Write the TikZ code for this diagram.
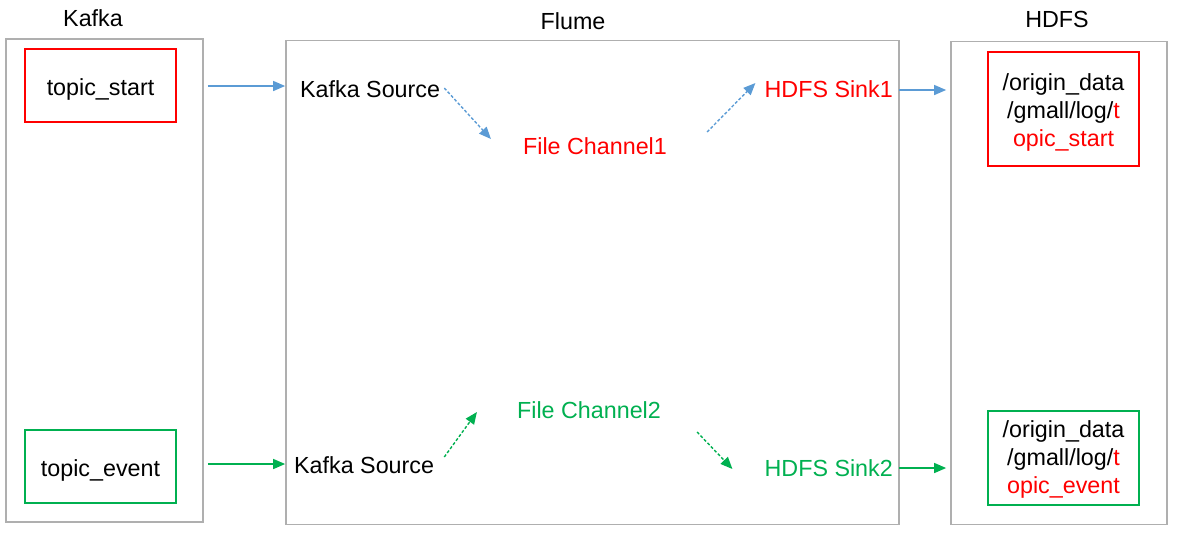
\documentclass[tikz,border=0pt]{standalone}
\usepackage{fontspec}
\setmainfont{Liberation Sans}
\usetikzlibrary{arrows.meta}
\definecolor{myblue}{HTML}{5B9BD5}
\definecolor{myred}{HTML}{FF0000}
\definecolor{mygreen}{HTML}{00B050}
\definecolor{mygray}{HTML}{AFAFAF}
\tikzset{
  txt/.style={inner sep=0pt, font=\fontsize{23.3}{28}\selectfont},
  outer/.style={draw=mygray, line width=1.7pt, inner sep=0pt},
  topicbox/.style={draw=#1, line width=1.6pt, inner sep=0pt, minimum width=151pt, font=\fontsize{23.3}{28}\selectfont, align=center},
  solidarrow/.style={draw=#1, line width=1.4pt, -{Triangle[length=12pt,width=10pt]}},
  dasharrow/.style={draw=#1, line width=1.4pt, dash pattern=on 3pt off 2pt, -{Triangle[length=12pt,width=10pt]}},
}
\begin{document}
\begin{tikzpicture}[x=1pt,y=-1pt]
\useasboundingbox (0,0) rectangle (1190,542);
% outer boxes
\node[outer, minimum width=197pt, minimum height=483pt] (kafka) at (104.5,280.5) {};
\node[outer, minimum width=613pt, minimum height=484pt] (flume) at (592.5,282.5) {};
\node[outer, minimum width=216pt, minimum height=483pt] (hdfs) at (1059,283) {};
% titles
\node[txt] (tkafka) at (93,18) {Kafka};
\node[txt] (tflume) at (573,21) {Flume};
\node[txt] (thdfs) at (1057,19) {HDFS};
% topic boxes
\node[topicbox=myred, minimum height=73pt, text height=24pt, text depth=5pt] (ts) at (100.5,85.5) {topic\_start};
\node[topicbox=mygreen, minimum height=73pt, text height=24pt, text depth=5pt] (te) at (100.5,466.5) {topic\_event};
% flume contents
\node[txt, anchor=west] (ks1) at (300,89) {Kafka Source};
\node[txt, text=myred] (fc1) at (595,146) {File Channel1};
\node[txt, text=myred, anchor=east] (hs1) at (893,89) {HDFS Sink1};
\node[txt, anchor=west] (ks2) at (294,465) {Kafka Source};
\node[txt, text=mygreen] (fc2) at (589,410) {File Channel2};
\node[txt, text=mygreen, anchor=east] (hs2) at (893,468) {HDFS Sink2};
% hdfs boxes
\node[topicbox=myred, minimum height=114pt] (hd1) at (1063.5,109) {};
\node[txt, align=center] (hd1t) at (1063.5,112) {/origin\_data\\/gmall/log/\textcolor{myred}{t}\\\textcolor{myred}{opic\_start}};
\node[topicbox=mygreen, minimum height=94pt] (hd2) at (1063.5,458) {};
\node[txt, align=center] (hd2t) at (1063.5,459.5) {/origin\_data\\/gmall/log/\textcolor{myred}{t}\\\textcolor{myred}{opic\_event}};
% arrows
\draw[solidarrow=myblue] ([xshift=31pt,yshift=-0.5pt]ts.east) -- ([yshift=-0.5pt]ts.east -| flume.west);
\draw[solidarrow=mygreen] ([xshift=31pt,yshift=2.5pt]te.east) -- ([yshift=2.5pt]te.east -| flume.west);
\draw[dasharrow=myblue] ([xshift=4pt,yshift=1pt]ks1.east) -- ([xshift=-32pt,yshift=7pt]fc1.west);
\draw[dasharrow=myblue] ([xshift=40pt,yshift=14pt]fc1.east) -- ([xshift=-9pt,yshift=6pt]hs1.west);
\draw[dasharrow=mygreen] ([xshift=10pt,yshift=8pt]ks2.east) -- ([xshift=-40pt,yshift=-2pt]fc2.west);
\draw[dasharrow=mygreen] ([xshift=36pt,yshift=-22pt]fc2.east) -- ([xshift=-32pt,yshift=-1pt]hs2.west);
\draw[solidarrow=myblue] ([xshift=6pt,yshift=-1pt]hs1.east) -- ([xshift=-4pt,yshift=-1pt]hs1.east -| hdfs.west);
\draw[solidarrow=mygreen] ([xshift=6pt]hs2.east) -- ([xshift=-4pt]hs2.east -| hdfs.west);
\end{tikzpicture}
\end{document}
